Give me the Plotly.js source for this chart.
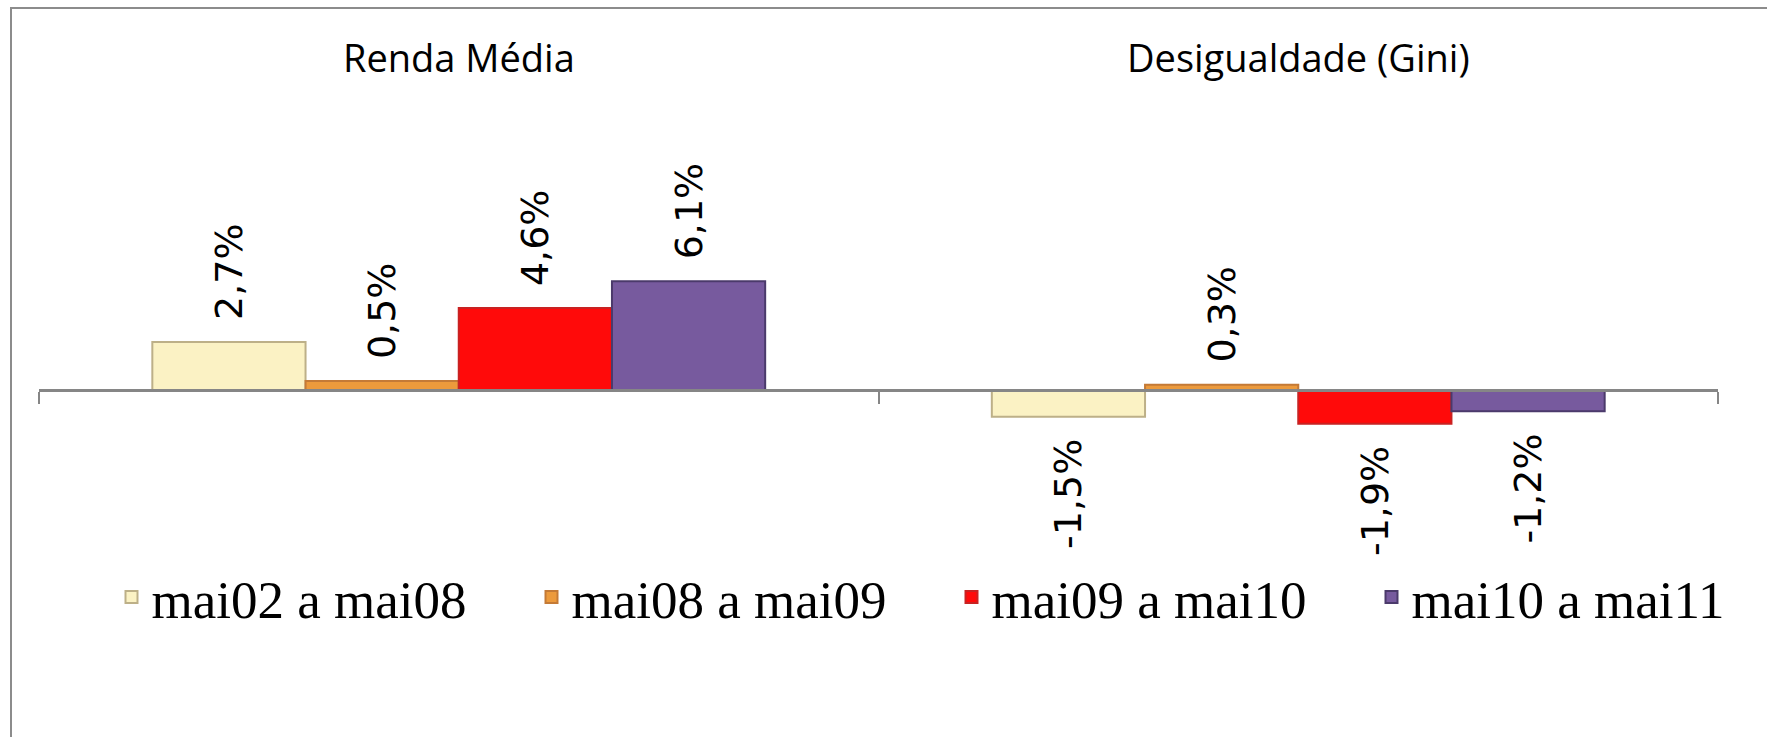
<!DOCTYPE html>
<html>
<head>
<meta charset="utf-8">
<script src="https://cdn.plot.ly/plotly-3.0.1.min.js"></script>
<style>
  html, body { margin: 0; padding: 0; background: #ffffff; }
  #wrap { position: relative; width: 1767px; height: 737px; overflow: hidden; background: #ffffff; }
  #chart { position: absolute; left: 0; top: 0; width: 1767px; height: 737px; }
  #frame { position: absolute; left: 10px; top: 7px; width: 2000px; height: 2000px;
           border: 2px solid #8c8c8c; box-sizing: border-box; pointer-events: none; }
</style>
</head>
<body>
<div id="wrap">
  <div id="chart"></div>
  <div id="frame"></div>
</div>
<script>
// ---- data ----
const categories = ["Renda Média", "Desigualdade (Gini)"];
const seriesNames = ["mai02 a mai08", "mai08 a mai09", "mai09 a mai10", "mai10 a mai11"];
const serie1 = [2.7, -1.5];   // mai02 a mai08
const serie2 = [0.5, 0.3];    // mai08 a mai09
const serie3 = [4.6, -1.9];   // mai09 a mai10
const serie4 = [6.1, -1.2];   // mai10 a mai11
const seriesValues = [serie1, serie2, serie3, serie4];

// ---- styles ----
const fills = ["#FBF2C4", "#EC9A3C", "#FF0A0A", "#775A9E"];
const borders = ["#BDB088", "#C47A36", "#C82222", "#4B3A6B"];

const PAD = "\u2002";
function label(v) {
  const s = v.toFixed(1).replace(".", ",") + "%";
  return v >= 0 ? PAD + s : s + PAD;
}

const traces = seriesValues.map((vals, i) => ({
  type: "bar",
  name: seriesNames[i],
  x: categories,
  y: vals,
  text: vals.map(label),
  textposition: "outside",
  textangle: -90,
  constraintext: "none",
  cliponaxis: false,
  textfont: { family: "DejaVu Sans", size: 38, color: "#000000" },
  marker: { color: fills[i], line: { color: borders[i], width: 2 } },
  hoverinfo: "skip"
}));

const yMin = -9.55, yMax = 17.13;
const zeroPos = (0 - yMin) / (yMax - yMin);

const layout = {
  width: 1767, height: 737,
  paper_bgcolor: "rgba(0,0,0,0)",
  plot_bgcolor: "rgba(0,0,0,0)",
  margin: { l: 39, r: 49, t: 85, b: 177, autoexpand: false },
  barmode: "group",
  bargap: 0.27,
  bargroupgap: 0,
  showlegend: true,
  xaxis: {
    type: "category",
    anchor: "free",
    position: zeroPos,
    showline: true,
    linecolor: "#868686",
    linewidth: 3,
    ticks: "outside",
    tickson: "boundaries",
    ticklen: 12,
    tickwidth: 2,
    tickcolor: "#868686",
    showticklabels: false,
    showgrid: false,
    zeroline: false,
    fixedrange: true
  },
  yaxis: {
    range: [yMin, yMax],
    visible: false,
    showgrid: false,
    zeroline: false,
    fixedrange: true
  },
  annotations: categories.map(c => ({
    text: c,
    x: c, xref: "x",
    y: 1, yref: "paper",
    yanchor: "bottom",
    showarrow: false,
    font: { family: "Open Sans", size: 38, color: "#000000" }
  })),
  legend: {
    orientation: "h",
    xref: "container", yref: "container",
    x: 0.0631, xanchor: "left",
    y: 0.19, yanchor: "middle",
    font: { family: "Liberation Serif", size: 53, color: "#000000" },
    bgcolor: "rgba(0,0,0,0)",
    entrywidth: 375,
    itemclick: false, itemdoubleclick: false,
    traceorder: "normal"
  }
};

Plotly.newPlot("chart", traces, layout, { displayModeBar: false, staticPlot: true });
</script>
</body>
</html>
